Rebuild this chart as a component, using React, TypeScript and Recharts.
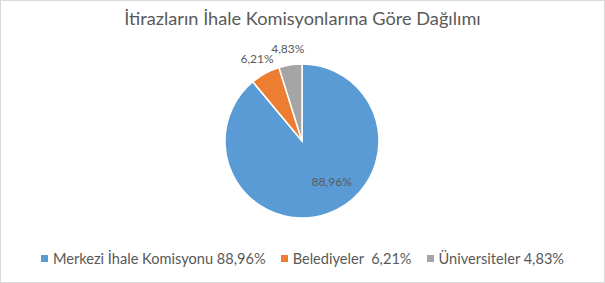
import React from 'react';
import { PieChart, Pie, Cell, Legend } from 'recharts';

const title = 'İtirazların İhale Komisyonlarına Göre Dağılımı';
const categories = ['Merkezi İhale Komisyonu', 'Belediyeler', 'Üniversiteler'];
const legendSeparators = [' ', '  ', ' '];
const values = [88.96, 6.21, 4.83];
const colors = ['#5B9BD5', '#ED7D31', '#A5A5A5'];

const fmt = (v: number) => v.toFixed(2).replace('.', ',') + '%';

const data = categories.map((c, i) => ({ name: c, value: values[i] }));

const RAD = Math.PI / 180;
const FONT = 'Lato, "Open Sans", sans-serif';
const TEXT = '#595959';

const renderLabel = (props: any) => {
  const { cx, cy, midAngle, outerRadius, index, value } = props;
  let r: number;
  let a: number;
  if (index === 0) {
    r = outerRadius * 0.65;
    a = midAngle + 16.5;
  } else {
    r = outerRadius + 17;
    a = midAngle;
  }
  const x = cx + r * Math.cos(-a * RAD);
  const y = cy + r * Math.sin(-a * RAD);
  return (
    <text x={x} y={y} textAnchor="middle" dominantBaseline="central" fill={TEXT} fontSize={12} fontFamily={FONT}>
      {fmt(value)}
    </text>
  );
};

const renderLegend = () => {
  return (
    <div style={{ display: 'flex', justifyContent: 'center', alignItems: 'center', fontFamily: FONT, fontSize: 14.6, color: TEXT, whiteSpace: 'pre' }}>
      {categories.map((c, i) => (
        <div key={c} style={{ display: 'flex', alignItems: 'center', marginRight: i < 2 ? 15 : 0 }}>
          <span style={{ display: 'inline-block', width: 7, height: 7, background: colors[i], marginRight: 5 }} />
          <span>{c + legendSeparators[i] + fmt(values[i])}</span>
        </div>
      ))}
    </div>
  );
};

export default function App() {
  return (
    <div style={{ position: 'absolute', top: 0, left: 0, width: 605, height: 283, background: '#fff' }}>
      <PieChart width={605} height={283} margin={{ top: 0, right: 0, bottom: 0, left: 0 }}>
        <Pie
          data={data}
          dataKey="value"
          nameKey="name"
          cx={302}
          cy={141}
          outerRadius={77}
          startAngle={90}
          endAngle={-270}
          stroke="#fff"
          strokeWidth={1.5}
          label={renderLabel}
          labelLine={false}
          isAnimationActive={false}
        >
          {data.map((d, i) => (
            <Cell key={d.name} fill={colors[i]} />
          ))}
        </Pie>
        <Legend content={renderLegend} wrapperStyle={{ position: 'absolute', top: 250, left: 0, width: 605, height: 20 }} />
      </PieChart>
      <div style={{ position: 'absolute', top: 6, left: 0, width: 605, textAlign: 'center', fontFamily: FONT, fontSize: 18.2, color: TEXT, lineHeight: '24px' }}>
        {title}
      </div>
      <div style={{ position: 'absolute', top: 0, left: 0, width: 605, height: 283, boxSizing: 'border-box', border: '1px solid #d9d9d9', pointerEvents: 'none' }} />
    </div>
  );
}
